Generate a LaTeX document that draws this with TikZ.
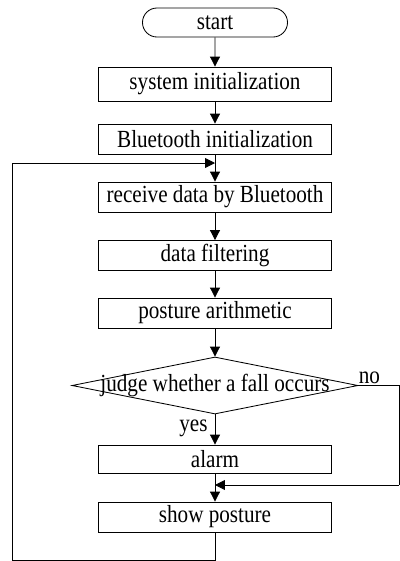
\documentclass[tikz,border=0pt]{standalone}
\usepackage{fontspec}
\setmainfont{Liberation Serif}[FakeStretch=0.86]
\usepackage{tikz}
\usetikzlibrary{arrows.meta, calc, shapes.geometric, shapes.misc}

\tikzset{
  process/.style={draw=black, line width=0.6pt, rectangle, minimum width=5.825cm, minimum height=0.75cm, inner sep=0pt},
  terminal/.style={draw=black, line width=0.6pt, rounded rectangle, minimum width=3.625cm, minimum height=0.725cm, inner sep=0pt},
  decision/.style={draw=black, line width=0.6pt, diamond, minimum width=7.15cm, minimum height=1.425cm, inner sep=0pt},
  flow/.style={line width=0.6pt, -{Triangle[length=7pt, width=7pt]}},
  link/.style={line width=0.6pt}
}

\begin{document}
\begin{tikzpicture}[x=0.025cm, y=-0.025cm, font=\fontsize{17.5}{20}\selectfont]

  \useasboundingbox (0,0) rectangle (400,561);

  \node[terminal] (start) at (215,22.5) {start};
  \node[process, minimum height=0.85cm] (sysinit) at (215,84) {system initialization};
  \node[process] (btinit) at (215,139) {Bluetooth initialization};
  \node[process] (receive) at (215,197) {receive data by Bluetooth};
  \node[process] (filter) at (215,255.5) {data filtering};
  \node[process] (posture) at (215,313) {posture arithmetic};
  \node[decision] (judge) at (215,385.5) {\makebox[0pt]{judge whether a fall occurs}};
  \node[process, minimum height=0.7cm] (alarm) at (215,459) {alarm};
  \node[process] (show) at (215,517) {show posture};

  \coordinate (loopin) at (215,163);
  \coordinate (noin) at (215,485);
  \coordinate (NR) at (399,385.5);
  \coordinate (NB) at (399,485);
  \coordinate (BL) at (12,560);
  \coordinate (TL) at (12,163);

  \draw[flow] (start) -- (sysinit);
  \draw[flow] (sysinit) -- (btinit);
  \draw[flow] (btinit) -- (receive);
  \draw[flow] (receive) -- (filter);
  \draw[flow] (filter) -- (posture);
  \draw[flow] (posture) -- (judge);
  \draw[flow] (judge) -- node[left, inner sep=5pt, pos=0.45] (yes) {yes} (alarm);
  \draw[flow] (alarm) -- (show);

  % no branch
  \draw[link] (judge.east) -- node[above, pos=0.27, inner sep=1pt] (no) {no} (NR) -- (NB);
  \draw[flow] (NB) -- (noin);

  % back to receiving
  \draw[link] (show.south) |- (BL) -- (TL);
  \draw[flow] (TL) -- (loopin);

\end{tikzpicture}
\end{document}
